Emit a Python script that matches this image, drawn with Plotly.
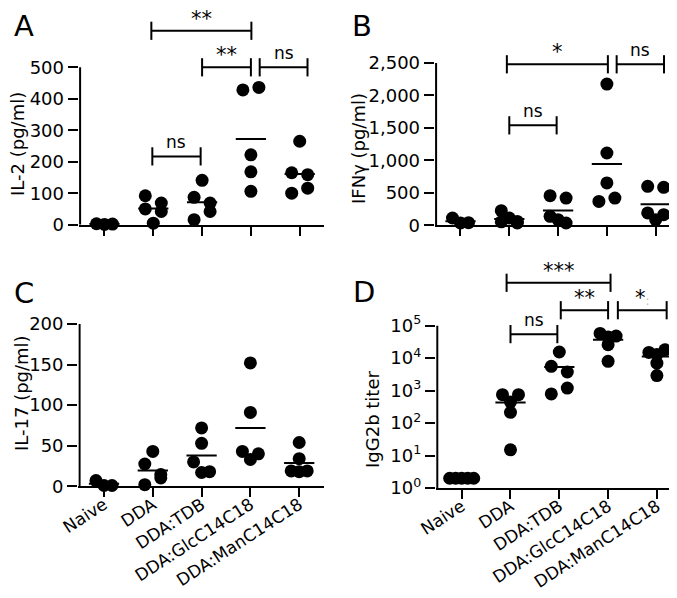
import math

import plotly.graph_objects as go

W, H = 677, 598

GROUPS = ["Naive", "DDA", "DDA:TDB", "DDA:GlcC14C18", "DDA:ManC14C18"]

# one list per group, pg/ml or titer
IL2 = [
    [3, 1, 2],
    [92, 69, 50, 42, 5],
    [141, 87, 69, 16, 42],
    [428, 436, 222, 168, 106],
    [265, 165, 159, 100, 116],
]
IFNG = [
    [112, 35, 40],
    [225, 112, 60, 53, 35],
    [456, 420, 138, 86, 35],
    [2176, 1114, 652, 368, 420],
    [600, 585, 190, 86, 163],
]
IL17 = [
    [7, 1, 1],
    [43, 27.5, 14.4, 2, 10.3],
    [72, 53, 30, 17, 18],
    [152, 91, 43, 33, 40],
    [54, 34, 19, 18, 19],
]
IGG2B = [
    [2, 2, 2, 2, 2],
    [748, 446, 748, 214, 15],
    [15500, 5600, 3740, 790, 1200],
    [58000, 45000, 48000, 26000, 8000],
    [15000, 13000, 18000, 7000, 2900],
]

# significance brackets: (from, to, level, label)
SIG_A = [(0.96, 3.01, 616, "**"), (2.0, 3.0, 500, "**"), (3.18, 4.16, 500, "ns"), (0.98, 1.97, 217, "ns")]
SIG_B = [(0.95, 3.02, 2480, "*"), (3.2, 4.17, 2480, "ns"), (1.0, 1.97, 1540, "ns")]
SIG_D = [
    (0.92, 3.05, 2.1e6, "***"),
    (1.0, 1.96, 5.5e4, "ns"),
    (2.03, 3.0, 3.0e5, "**"),
    (3.2, 4.2, 3.0e5, "*<span style='color:#bbbbbb;font-size:12px'>:</span>"),
]

FONT = "DejaVu Sans"
SPACING = 48.8

PANELS = [
    dict(letter="A", data=IL2, title="IL-2 (pg/ml)", ticks=[0, 100, 200, 300, 400, 500], top=680,
         cat0=96.5, base_px=216.7, tick_px=59.3, sig=SIG_A, labels=False, letter_xy=(16, 18), title_xy=(10, 136)),
    dict(letter="B", data=IFNG, title="IFNγ (pg/ml)", ticks=[0, 500, 1000, 1500, 2000, 2500], top=2850,
         cat0=452.5, base_px=217.3, tick_px=55, sig=SIG_B, labels=False, letter_xy=(354, 18), title_xy=(351, 141)),
    dict(letter="C", data=IL17, title="IL-17 (pg/ml)", ticks=[0, 50, 100, 150, 200], top=202,
         cat0=96, base_px=478.3, tick_px=316, sig=[], labels=True, letter_xy=(16, 285), title_xy=(13, 385)),
    dict(letter="D", data=IGG2B, title="IgG2b titer", ticks=[1, 10, 100, 1000, 10000, 100000], top=1e7,
         cat0=453.7, base_px=480, tick_px=317.7, sig=SIG_D, labels=True, log=True,
         letter_xy=(356, 284), title_xy=(364, 412)),
]


def swarm_offsets(values, px_per_unit, log=False):
    # rows of near-equal values are spread side by side, Prism style
    ys = [(math.log10(v) if log else v) * px_per_unit for v in values]
    order = sorted(range(len(values)), key=lambda i: -ys[i])
    rows = []
    for i in order:
        if rows and abs(ys[rows[-1][0]] - ys[i]) < 11:
            rows[-1].append(i)
        else:
            rows.append([i])
    offsets = [0.0] * len(values)
    for row in rows:
        row.sort()
        k = len(row)
        if k == 1:
            continue
        step = max(16.0 / (k - 1), 6.0)
        for j, i in enumerate(row):
            offsets[i] = (j - (k - 1) / 2) * step / SPACING
    return offsets


fig = go.Figure()
layout = dict(
    width=W, height=H, margin=dict(l=0, r=0, t=0, b=0),
    paper_bgcolor="white", plot_bgcolor="white", showlegend=False,
    font=dict(family=FONT, color="black", size=17), annotations=[],
)

for n, p in enumerate(PANELS, start=1):
    log = p.get("log", False)
    xa, ya = f"x{n}", f"y{n}"
    tick_top = math.log10(p["ticks"][-1]) if log else p["ticks"][-1]
    lo = 0
    hi = math.log10(p["top"]) if log else p["top"]
    ppu = (p["base_px"] - p["tick_px"]) / tick_top
    top_px = p["base_px"] - hi * ppu
    x_lo, x_hi = -0.53, 4.5
    left_px = p["cat0"] + x_lo * SPACING
    right_px = p["cat0"] + x_hi * SPACING

    layout[f"xaxis{n}"] = dict(
        domain=[left_px / W, right_px / W], range=[x_lo, x_hi], anchor=ya,
        tickmode="array", tickvals=list(range(len(GROUPS))), ticktext=GROUPS,
        showticklabels=p["labels"], tickangle=-33, tickfont=dict(size=17),
        ticklabelstandoff=-9,
        showline=True, linecolor="black", linewidth=2,
        ticks="outside", ticklen=9, tickwidth=2, tickcolor="black",
        showgrid=False, zeroline=False, automargin=False,
    )
    if log:
        ticktext = [f"10<sup>{int(math.log10(t))}</sup>" for t in p["ticks"]]
    else:
        ticktext = [f"{t:,}" for t in p["ticks"]]
    layout[f"yaxis{n}"] = dict(
        domain=[1 - p["base_px"] / H, 1 - top_px / H], range=[lo, hi], anchor=xa,
        type="log" if log else "linear",
        tickmode="array", tickvals=p["ticks"], ticktext=ticktext, tickfont=dict(size=18),
        showline=False, ticks="outside", ticklen=10, tickwidth=2, tickcolor="black",
        showgrid=False, zeroline=False, automargin=False,
    )

    # y axis line, only up to the top tick
    fig.add_trace(go.Scatter(
        x=[-0.5, -0.5], y=[p["ticks"][0], p["ticks"][-1]], xaxis=xa, yaxis=ya,
        mode="lines", line=dict(color="black", width=2), hoverinfo="skip",
    ))

    for g, vals in enumerate(p["data"]):
        offs = swarm_offsets(vals, ppu, log)
        fig.add_trace(go.Scatter(
            x=[g + o for o in offs], y=vals, xaxis=xa, yaxis=ya, mode="markers",
            marker=dict(color="black", size=13), cliponaxis=False, hoverinfo="skip",
        ))
        mean = sum(vals) / len(vals)
        fig.add_trace(go.Scatter(
            x=[g - 0.31, g + 0.31], y=[mean, mean], xaxis=xa, yaxis=ya,
            mode="lines", line=dict(color="black", width=2), hoverinfo="skip",
        ))

    for a, b, level, label in p["sig"]:
        fig.add_trace(go.Scatter(
            x=[a, b], y=[level, level], xaxis=xa, yaxis=ya, mode="lines+markers",
            line=dict(color="black", width=2),
            marker=dict(symbol="line-ns", size=13, line=dict(color="black", width=2)),
            cliponaxis=False, hoverinfo="skip",
        ))
        stars = label.startswith("*")
        layout["annotations"].append(dict(
            x=(a + b) / 2, y=math.log10(level) if log else level, xref=xa, yref=ya,
            text=label, showarrow=False, yanchor="bottom", yshift=-2 if stars else 2,
            font=dict(size=21 if stars else 17, color="black"),
        ))

    lx, ly = p["letter_xy"]
    layout["annotations"].append(dict(
        x=lx / W, y=1 - ly / H, xref="paper", yref="paper", text=p["letter"],
        showarrow=False, xanchor="center", yanchor="middle", font=dict(size=29, color="black"),
    ))
    tx, ty = p["title_xy"]
    layout["annotations"].append(dict(
        x=tx / W, y=1 - ty / H, xref="paper", yref="paper", text=p["title"],
        showarrow=False, textangle=-90, xanchor="center", yanchor="middle",
        font=dict(size=18, color="black"),
    ))

fig.update_layout(**layout)
fig.write_html("out.html")
